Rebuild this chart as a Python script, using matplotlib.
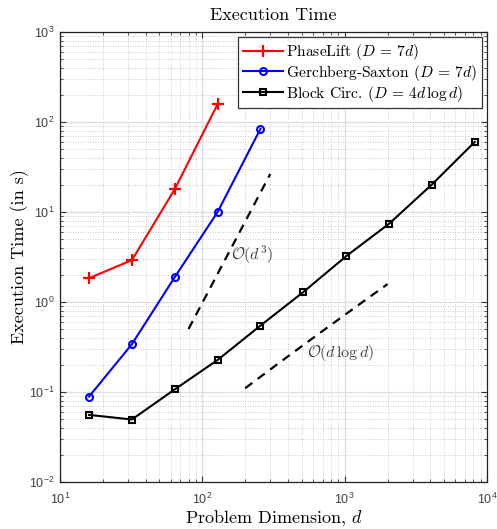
import numpy as np
import matplotlib
matplotlib.use("Agg")
import matplotlib.pyplot as plt

plt.rcParams['mathtext.fontset'] = 'cm'
plt.rcParams['mathtext.rm'] = 'Liberation Sans'
plt.rcParams['mathtext.it'] = 'Liberation Sans:italic'
plt.rcParams['mathtext.bf'] = 'Liberation Sans:bold'
plt.rcParams['axes.unicode_minus'] = False

# ---- data ----
dims_pl = [16, 32, 64, 128]
time_pl = [1.84, 2.92, 17.9, 158]

dims_gs = [16, 32, 64, 128, 256]
time_gs = [0.089, 0.34, 1.89, 10.0, 84]

dims_bc = [16, 32, 64, 128, 256, 512, 1024, 2048, 4096, 8192]
time_bc = [0.0557, 0.0495, 0.107, 0.227, 0.547, 1.29, 3.23, 7.4, 20.2, 60]

cube_range = [80, 300]
cube_coef = 9.8e-7
dlogd_range = [200, 2000]
dlogd_coef = 1.04e-4

xticks = [1e1, 1e2, 1e3, 1e4]
xticklabels = [r'$10^{1}$', r'$10^{2}$', r'$10^{3}$', r'$10^{4}$']
yticks = [1e-2, 1e-1, 1e0, 1e1, 1e2, 1e3]
yticklabels = [r'$10^{-2}$', r'$10^{-1}$', r'$10^{0}$', r'$10^{1}$', r'$10^{2}$', r'$10^{3}$']

fig = plt.figure(figsize=(4.97, 5.29), dpi=100)
ax = fig.add_axes([0.1207, 0.0888, 0.8593, 0.8507])
ax.set_xscale('log')
ax.set_yscale('log')
ax.set_xlim(10, 1e4)
ax.set_ylim(1e-2, 1e3)

ax.grid(True, which='major', color='#dddddd', linestyle='-', linewidth=0.9, zorder=0)
ax.grid(True, which='minor', color='#bdbdbd', linestyle=(0, (1, 2)), linewidth=0.6, zorder=0)
ax.set_axisbelow(True)

lw = 1.5
ax.plot(dims_pl, time_pl, color='red', lw=lw, marker='+', ms=9, mew=1.6,
        label=r'PhaseLift ($D\,=\,7d$)')
ax.plot(dims_gs, time_gs, color='blue', lw=lw, marker='o', ms=5, mew=1.5,
        mfc='none', label=r'Gerchberg-Saxton ($D\,=\,7d$)')
ax.plot(dims_bc, time_bc, color='black', lw=lw, marker='s', ms=4, mew=1.5,
        mfc='none', label=r'Block Circ. ($D\,=\,4d\,\log d$)')

xc = np.array(cube_range, dtype=float)
ax.plot(xc, cube_coef * xc**3, color='black', lw=1.6, linestyle=(0, (4, 3)))
xd = np.geomspace(dlogd_range[0], dlogd_range[1], 20)
ax.plot(xd, dlogd_coef * xd * np.log(xd), color='black', lw=1.6, linestyle=(0, (4, 3)))

ax.text(158, 3.35, r'$\mathcal{O}(d^3)$', fontsize=11.5, color='#404040', va='center', ha='left')
ax.text(540, 0.27, r'$\mathcal{O}(d\,\log d)$', fontsize=11.5, color='#404040', va='center', ha='left')

ax.set_xticks(xticks, labels=xticklabels, math_fontfamily='custom', fontsize=9, color='#404040')
ax.set_yticks(yticks, labels=yticklabels, math_fontfamily='custom', fontsize=9, color='#404040')
ax.tick_params(which='both', direction='in', top=True, right=True, color='#333333')
ax.tick_params(which='major', length=4, width=0.8)
ax.tick_params(axis='x', which='major', pad=7)
ax.tick_params(axis='y', which='major', pad=4)
ax.tick_params(which='minor', length=2, width=0.6)
for s in ax.spines.values():
    s.set_linewidth(0.9)
    s.set_color('#222222')

ax.set_title('Execution Time', family='cmr10', fontsize=13, pad=9)
ax.set_xlabel(r'Problem Dimension, $d$', family='cmr10', fontsize=13, labelpad=1)
ax.set_ylabel('Execution Time (in s)', family='cmr10', fontsize=13, labelpad=0)

leg = ax.legend(loc='upper right', prop={'family': 'cmr10', 'size': 11.2},
                fancybox=False, edgecolor='#333333', framealpha=1,
                handlelength=2.6, handletextpad=0.2, borderpad=0.3,
                labelspacing=0.05, borderaxespad=0.35)
leg.get_frame().set_linewidth(0.9)

fig.savefig('out.png', dpi=100)
